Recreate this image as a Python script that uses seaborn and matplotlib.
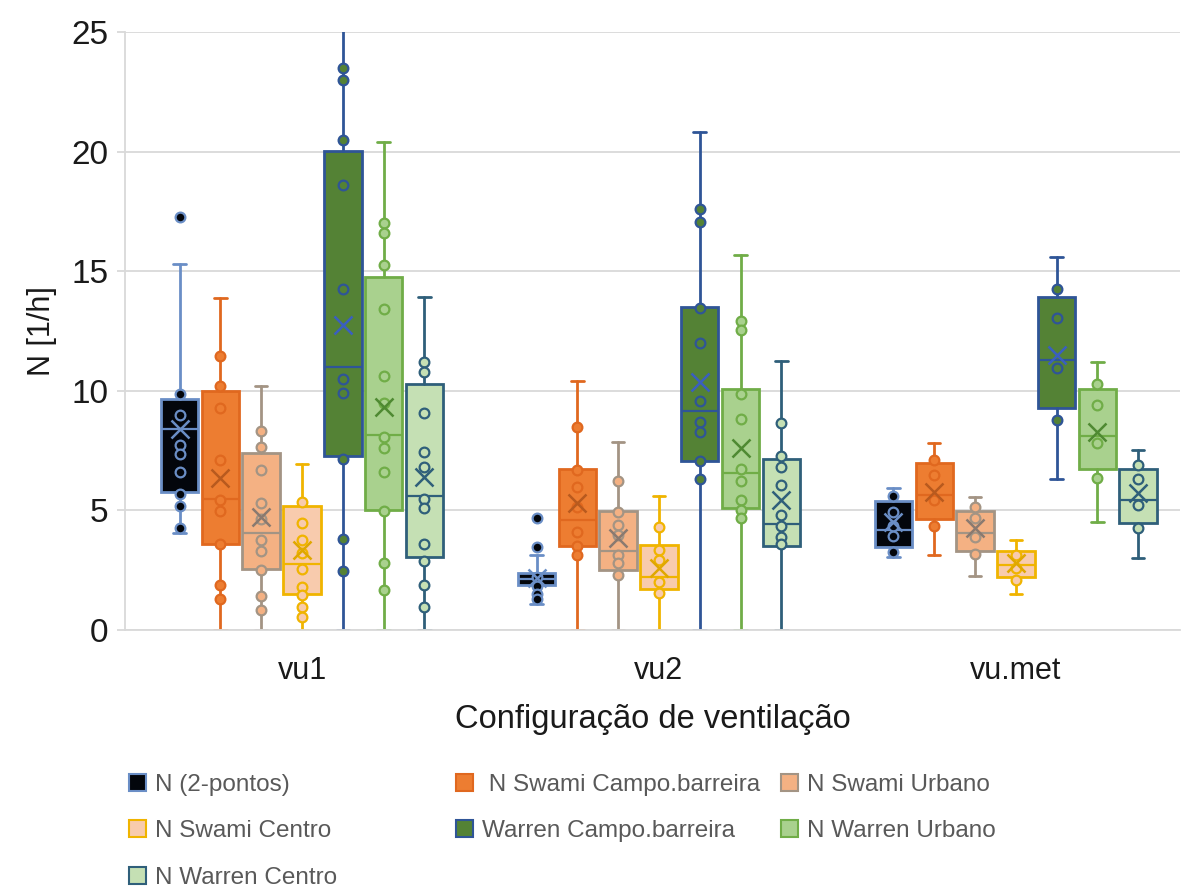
import numpy as np
import pandas as pd
import seaborn as sns
import matplotlib.pyplot as plt
from matplotlib.patches import Patch

# categories and series
configs = ["vu1", "vu2", "vu.met"]
series = ["N (2-pontos)", " N Swami Campo.barreira", "N Swami Urbano", "N Swami Centro",
          "Warren Campo.barreira", "N Warren Urbano", "N Warren Centro"]

# box statistics, one row per series, one value per config (vu1, vu2, vu.met)
whis_hi = [[15.3, 3.12, 5.92], [13.9, 10.42, 7.8], [10.18, 7.85, 5.57], [6.94, 5.6, 3.76],
           [26.0, 20.83, 15.6], [20.4, 15.68, 11.22], [13.93, 11.26, 7.53]]
q3 = [[9.65, 2.38, 5.41], [10.0, 6.73, 7.0], [7.4, 4.99, 4.99], [5.17, 3.55, 3.32],
      [20.03, 13.49, 13.94], [14.75, 10.06, 10.06], [10.28, 7.15, 6.72]]
median = [[8.4, 2.12, 4.18], [5.49, 4.6, 5.64], [4.06, 3.3, 4.04], [2.78, 2.23, 2.72],
          [10.98, 9.17, 11.29], [8.15, 6.58, 8.11], [5.62, 4.42, 5.43]]
mean = [[8.4, 2.19, 4.53], [6.36, 5.3, 5.78], [4.72, 3.83, 4.25], [3.33, 2.58, 2.79],
        [12.74, 10.38, 11.5], [9.34, 7.6, 8.29], [6.39, 5.43, 5.71]]
q1 = [[5.76, 1.9, 3.46], [3.58, 3.51, 4.63], [2.53, 2.51, 3.32], [1.49, 1.7, 2.2],
      [7.26, 7.08, 9.29], [5.0, 5.09, 6.72], [3.07, 3.51, 4.46]]
whis_lo = [[4.05, 1.08, 3.04], [0, 0, 3.14], [0, 0, 2.26], [0, 0, 1.5],
           [0, 0, 6.3], [0, 0, 4.5], [0, 0, 3.0]]

# individual points per series: [vu1, vu2, vu.met]
pts_2pontos = [[17.25, 9.86, 9.0, 7.75, 7.36, 6.6, 5.7, 5.17, 4.26],
               [4.67, 3.46, 2.2, 1.85, 1.5, 1.3],
               [5.6, 4.95, 4.35, 3.93, 3.26]]
pts_swami_campo = [[11.46, 10.2, 9.28, 7.1, 5.42, 4.96, 3.58, 1.88, 1.28],
                   [8.5, 6.69, 5.99, 5.16, 4.11, 3.51, 3.14],
                   [7.11, 6.48, 5.43, 4.36]]
pts_swami_urbano = [[8.3, 7.64, 6.69, 5.31, 4.65, 3.75, 3.3, 2.5, 1.42, 0.83],
                    [6.24, 4.95, 4.39, 3.97, 3.14, 2.79, 2.3],
                    [5.16, 4.67, 3.9, 3.18]]
pts_swami_centro = [[5.35, 4.49, 3.75, 3.2, 2.57, 1.8, 1.46, 0.97, 0.56],
                    [4.29, 3.34, 2.93, 2.02, 1.56],
                    [3.14, 2.58, 2.09]]
pts_warren_campo = [[23.5, 23.0, 20.5, 18.6, 14.26, 10.49, 9.92, 7.16, 3.82, 2.46],
                    [17.6, 17.04, 13.45, 11.98, 9.57, 8.71, 8.29, 7.08, 6.3],
                    [14.24, 13.06, 10.94, 8.78]]
pts_warren_urbano = [[17.0, 16.6, 15.25, 13.44, 10.6, 9.5, 8.08, 7.59, 6.6, 4.97, 2.79, 1.69],
                     [12.92, 12.54, 9.87, 8.81, 6.72, 6.24, 5.43, 5.02, 4.67],
                     [10.27, 9.41, 7.83, 6.34]]
pts_warren_centro = [[11.2, 10.77, 9.07, 7.46, 6.8, 5.49, 5.08, 3.6, 2.9, 1.89, 0.98],
                     [8.67, 7.27, 6.83, 6.06, 4.81, 4.35, 3.9, 3.58],
                     [6.9, 6.3, 5.23, 4.25]]
points = [pts_2pontos, pts_swami_campo, pts_swami_urbano, pts_swami_centro,
          pts_warren_campo, pts_warren_urbano, pts_warren_centro]

fills = ["#03060c", "#ed7d31", "#f4b183", "#f8cbad", "#548235", "#a9d18e", "#c5e0b4"]
edges = ["#6a8ec6", "#e0681f", "#a39484", "#f0b400", "#2f5597", "#70ad47", "#2f5f7a"]
mean_cols = ["#6a8ec6", "#b85a1e", "#8a7a70", "#e0a800", "#3a5fc0", "#4f8a32", "#2f5f7a"]

rows = []
for s, name in enumerate(series):
    for c, cfg in enumerate(configs):
        for v in points[s][c]:
            rows.append({"config": cfg, "serie": name, "N": v})
df = pd.DataFrame(rows)

sns.set_theme(style="white")
plt.rcParams["font.family"] = ["Liberation Sans", "DejaVu Sans"]

fig = plt.figure(figsize=(11.87, 8.92), dpi=100)
ax = fig.add_axes([125 / 1187, 1 - 630 / 892, (1180 - 125) / 1187, (630 - 32) / 892])

n = len(series)
step = 0.8 / n
offsets = [(i - (n - 1) / 2) * step for i in range(n)]
cat_idx = {cfg: i for i, cfg in enumerate(configs)}

for s, name in enumerate(series):
    pos = [c + offsets[s] for c in range(len(configs))]
    stats = []
    for c in range(len(configs)):
        stats.append({"whislo": whis_lo[s][c], "q1": q1[s][c], "med": median[s][c],
                      "q3": q3[s][c], "whishi": whis_hi[s][c], "mean": mean[s][c], "fliers": []})
    ax.bxp(stats, positions=pos, widths=0.105, capwidths=0.035, patch_artist=True,
           showfliers=False, showmeans=True,
           boxprops=dict(facecolor=fills[s], edgecolor=edges[s], linewidth=2),
           medianprops=dict(color=edges[s], linewidth=1.6),
           whiskerprops=dict(color=edges[s], linewidth=2),
           capprops=dict(color=edges[s], linewidth=2),
           meanprops=dict(marker="x", markeredgecolor=mean_cols[s], markersize=13,
                          markeredgewidth=1.8, zorder=5),
           zorder=2)
    sub = df[df["serie"] == name]
    xpos = sub["config"].map(cat_idx) + offsets[s]
    sns.stripplot(x=xpos.values, y=sub["N"].values, native_scale=True, orient="x",
                  jitter=False, color=fills[s], edgecolor=edges[s], linewidth=1.6,
                  size=7, ax=ax, zorder=4)

ax.set_ylim(0, 25)
ax.set_xlim(-0.496, 2.46)
ax.set_yticks(range(0, 26, 5))
ax.set_xticks(range(len(configs)))
ax.set_xticklabels(configs)
ax.yaxis.grid(True, color="#d9d9d9", linewidth=1.3)
ax.xaxis.grid(False)
ax.set_axisbelow(True)
for side in ["top", "right"]:
    ax.spines[side].set_visible(False)
for side in ["left", "bottom"]:
    ax.spines[side].set_color("#d9d9d9")
    ax.spines[side].set_linewidth(1.3)
ax.tick_params(axis="y", labelsize=24, colors="#d9d9d9", labelcolor="#1a1a1a",
               length=6, width=1.3, pad=6, left=True)
ax.tick_params(axis="x", labelsize=22, labelcolor="#1a1a1a", length=0, pad=19)
ax.set_ylabel("N [1/h]", fontsize=22, color="#1a1a1a", labelpad=10)
ax.set_xlabel("Configuração de ventilação", fontsize=23.5, color="#1a1a1a", labelpad=13)

# legend in three equal columns, like the original
handles = [Patch(facecolor=fills[s], edgecolor=edges[s], linewidth=1.5) for s in range(n)]
col_x = [129, 456, 781]
cols = [[0, 3, 6], [1, 4], [2, 5]]
for x0, idx in zip(col_x, cols):
    leg = fig.legend([handles[i] for i in idx], [series[i] for i in idx],
                     loc="upper left", bbox_to_anchor=(x0 / 1187, 1 - 774 / 892),
                     frameon=False, fontsize=17.5, handlelength=0.7, handleheight=0.7,
                     handletextpad=0.35, labelspacing=1.0, borderpad=0, borderaxespad=0)
    for t in leg.get_texts():
        t.set_color("#595959")

fig.savefig("out.png", dpi=100)
